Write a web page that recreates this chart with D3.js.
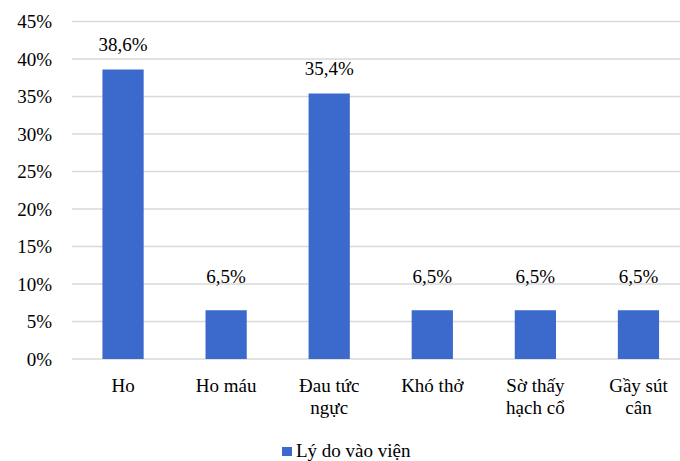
<!DOCTYPE html>
<html>
<head>
<meta charset="utf-8">
<script src="https://cdn.jsdelivr.net/npm/d3@7"></script>
<style>
  body { margin: 0; background: #fff; }
</style>
</head>
<body>
<svg class="chart"></svg>
<script>
var width = 680;
var height = 461;
var font = "'Liberation Serif', 'Times New Roman', Times, 'DejaVu Serif', serif";

// data
var categories = ["Ho", "Ho máu", "Đau tức\nngực", "Khó thở", "Sờ thấy\nhạch cổ", "Gầy sút\ncân"];
var values = [38.6, 6.5, 35.4, 6.5, 6.5, 6.5];
var valueLabels = ["38,6%", "6,5%", "35,4%", "6,5%", "6,5%", "6,5%"];
var yTicks = [0, 5, 10, 15, 20, 25, 30, 35, 40, 45];
var seriesName = "Lý do vào viện";

var barColor = "#3b69cc";
var gridColor = "#d9d9d9";

var svg = d3.select(".chart").attr("width", width).attr("height", height)
    .style("font-family", font);

var x = d3.scaleBand().domain(categories).range([71.5, 690]).paddingInner(0.6).paddingOuter(0.3);
var y = d3.scaleLinear().domain([0, 45]).range([359, 21.5]);

// gridlines
svg.append("g").selectAll("line")
    .data(yTicks)
  .enter().append("line")
    .attr("x1", 72).attr("x2", width)
    .attr("y1", function(d){ return y(d); })
    .attr("y2", function(d){ return y(d); })
    .attr("stroke", gridColor)
    .attr("stroke-width", 1.5);

// y axis labels
var yAxis = d3.axisLeft(y).tickValues(yTicks).tickSize(0).tickPadding(0)
    .tickFormat(function(d){ return d + "%"; });
svg.append("g").attr("transform", "translate(52,0)").call(yAxis)
    .attr("font-family", null).attr("font-size", null)
    .call(function(g){ g.select(".domain").remove(); })
    .selectAll("text")
    .style("font-size", "19px")
    .style("font-family", font)
    .attr("fill", "#000");

// bars
var data = categories.map(function(c, i){ return { cat: c, v: values[i], label: valueLabels[i] }; });

svg.append("g").selectAll("rect")
    .data(data)
  .enter().append("rect")
    .attr("x", function(d){ return x(d.cat); })
    .attr("width", x.bandwidth())
    .attr("y", function(d){ return y(d.v); })
    .attr("height", function(d){ return y(0) - y(d.v); })
    .attr("fill", barColor);

// value labels
svg.append("g").selectAll("text")
    .data(data)
  .enter().append("text")
    .attr("x", function(d){ return x(d.cat) + x.bandwidth() / 2; })
    .attr("y", function(d){ return y(d.v) - (d.v < 10 ? 27 : 19); })
    .attr("text-anchor", "middle")
    .style("font-size", "19px")
    .style("font-family", font)
    .text(function(d){ return d.label; });

// category labels (may wrap on two lines)
var catLabels = svg.append("g").selectAll("text")
    .data(categories)
  .enter().append("text")
    .attr("x", function(d){ return x(d) + x.bandwidth() / 2; })
    .attr("y", 392)
    .attr("text-anchor", "middle")
    .style("font-size", "19px")
    .style("font-family", font);

catLabels.selectAll("tspan")
    .data(function(d){ return d.split("\n"); })
  .enter().append("tspan")
    .attr("x", function(){ return this.parentNode.getAttribute("x"); })
    .attr("dy", function(d, i){ return i === 0 ? 0 : 22; })
    .text(function(d){ return d; });

// legend
var legend = svg.append("g").attr("transform", "translate(282,447)");
legend.append("rect").attr("width", 10).attr("height", 9).attr("fill", barColor);
legend.append("text").attr("x", 14).attr("y", 10)
    .style("font-size", "19px")
    .style("font-family", font)
    .text(seriesName);
</script>
</body>
</html>
